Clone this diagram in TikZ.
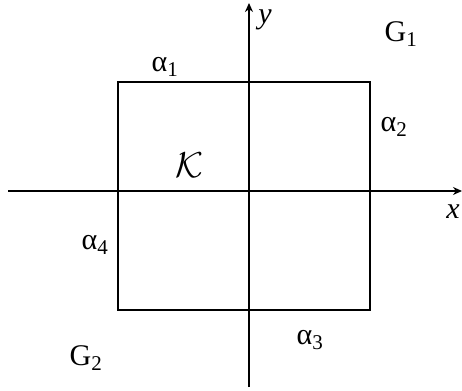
\documentclass[tikz,border=0pt]{standalone}
\usepackage{fontspec}
\setmainfont{Liberation Serif}
\usetikzlibrary{arrows.meta}
\begin{document}
\begin{tikzpicture}[x=1pt,y=1pt,line width=1.6pt,
  lbl/.style={font=\fontsize{30}{34}\selectfont},
  axis/.style={-{Stealth[length=9pt,width=8pt]}}]
\useasboundingbox (0,0) rectangle (462,390);
\coordinate (xs) at (8,199);
\coordinate (xe) at (462,199);
\coordinate (ys) at (249,3);
\coordinate (ye) at (249,387);

\coordinate (sw) at (118,80);
\coordinate (ne) at (370,308);

\draw (sw) rectangle (ne);
\draw[axis] (xs)--(xe);
\draw[axis] (ys)--(ye);

\node[lbl] (ylab) at (265,370) {\textit{y}};
\node[lbl] (xlab) at (453,178) {\textit{x}};
\node[lbl] (g1) at (401,356) {G\textsubscript{1}};
\node[lbl] (g2) at (86,32) {G\textsubscript{2}};
\node[lbl] (a1) at (165,323) {α\textsubscript{1}};
\node[lbl] (a2) at (394,263) {α\textsubscript{2}};
\node[lbl] (a3) at (310,50) {α\textsubscript{3}};
\node[lbl] (a4) at (95,145) {α\textsubscript{4}};
\node (k) at (189,225) {\scalebox{3.6}{$\mathcal{K}$}};
\end{tikzpicture}
\end{document}
